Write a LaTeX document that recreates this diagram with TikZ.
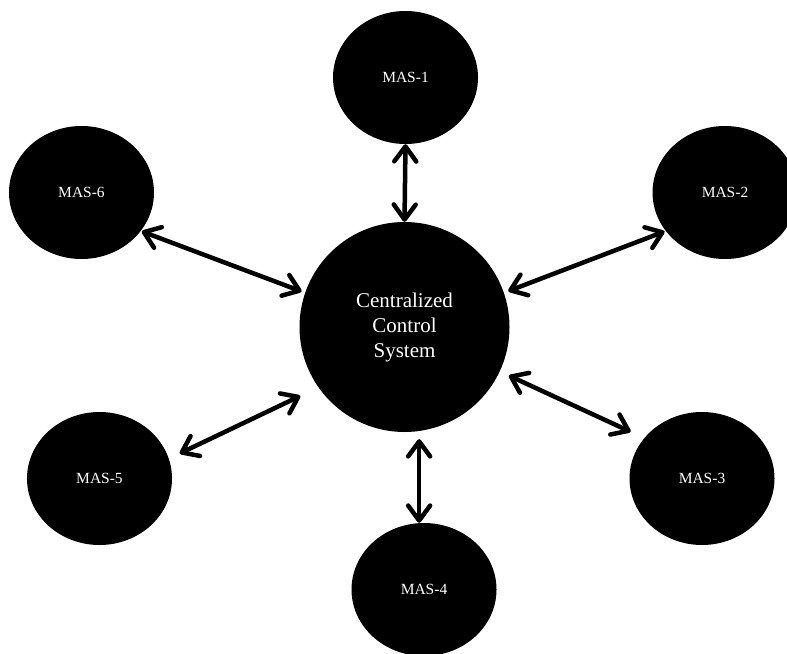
\documentclass[tikz,border=0pt]{standalone}
\usepackage{fontspec}
\setmainfont{Liberation Serif}
\usetikzlibrary{shapes.geometric,arrows.meta}
\tikzset{
  mas/.style={ellipse,fill=black,text=white,minimum width=145bp,minimum height=133bp,inner sep=0pt,font=\fontsize{15.5bp}{18bp}\selectfont},
  hub/.style={circle,fill=black,text=white,minimum size=210bp,inner sep=0pt,align=center,font=\fontsize{21bp}{25bp}\selectfont},
  link/.style={line width=4.5bp,{Straight Barb[length=15bp,width=22bp,round]}-{Straight Barb[length=15bp,width=22bp,round]}}
}
\begin{document}
\begin{tikzpicture}[x=1bp,y=-1bp]
\useasboundingbox (0,0) rectangle (787,654);
\clip (0,0) rectangle (787,654);
\node[hub] (c) at (404.5,327) {Centralized\\Control\\System};
\node[mas] (m1) at (405.5,77.5) {MAS-1};
\node[mas] (m2) at (725,192.5) {MAS-2};
\node[mas] (m3) at (702,478.5) {MAS-3};
\node[mas] (m4) at (424,589.5) {MAS-4};
\node[mas] (m5) at (99.5,478.5) {MAS-5};
\node[mas] (m6) at (81.5,192.5) {MAS-6};
\draw[link] (m1.south) -- (c.north);
\draw[link,shorten <=1bp,shorten >=3.7bp] (m6.-33.1) -- (c.161.05);
\draw[link,shorten <=1.2bp,shorten >=4.6bp] (m2.213.2) -- (c.19.7);
\draw[link,shorten <=15bp,shorten >=10bp] (m3.145) -- (c.-25.2);
\draw[link,shorten <=12bp,shorten >=20bp] (m5.16.9) -- (c.215);
\draw[link,shorten <=8bp] (c.-82) -- (c.-82 |- m4.north);
\end{tikzpicture}
\end{document}
